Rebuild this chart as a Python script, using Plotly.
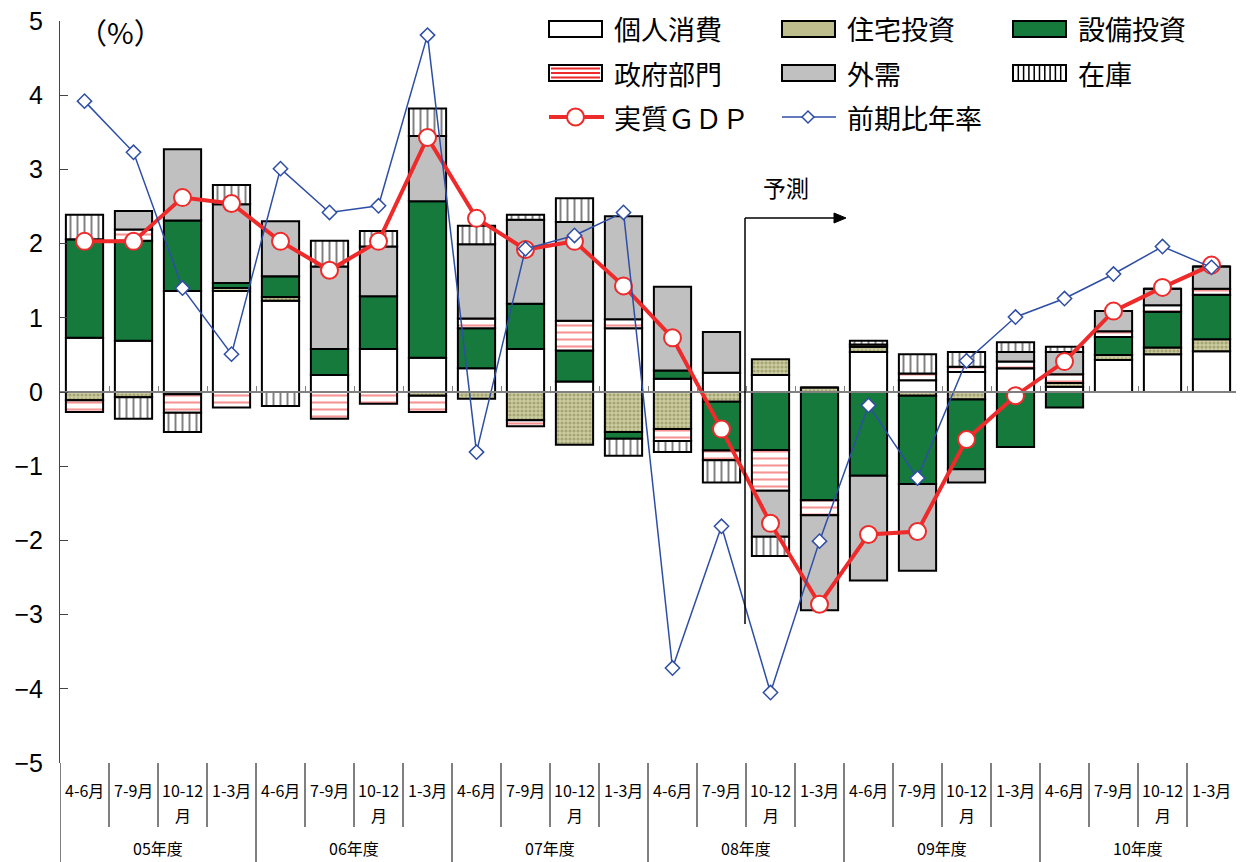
import plotly.graph_objects as go

# ---------------- data ----------------
quarters = ["4-6月", "7-9月", "10-12月", "1-3月"] * 6
years = ["05年度", "06年度", "07年度", "08年度", "09年度", "10年度"]

consumption = [0.73, 0.69, 1.36, 1.36, 1.23, 0.23, 0.58, 0.46, 0.32, 0.58, 0.14, 0.86,
               0.18, 0.26, 0.23, 0.00, 0.54, 0.16, 0.27, 0.32, 0.07, 0.43, 0.51, 0.55]
housing = [-0.11, -0.07, -0.03, 0.04, 0.05, 0.00, 0.00, -0.05, -0.09, -0.38, -0.71, -0.54,
           -0.50, -0.13, 0.21, 0.06, 0.07, -0.05, -0.10, 0.00, 0.05, 0.07, 0.09, 0.16]
equipment = [1.33, 1.35, 0.95, 0.07, 0.28, 0.35, 0.71, 2.11, 0.54, 0.61, 0.42, -0.09,
             0.11, -0.66, -0.78, -1.46, -1.13, -1.19, -0.94, -0.74, -0.21, 0.24, 0.48, 0.60]
government = [-0.16, 0.15, -0.25, -0.21, 0.00, -0.36, -0.16, -0.22, 0.13, -0.08, 0.40, 0.12,
              -0.16, -0.13, -0.55, -0.20, 0.03, 0.09, 0.07, 0.09, 0.12, 0.08, 0.09, 0.08]
external = [0.00, 0.25, 0.96, 1.06, 0.74, 1.11, 0.67, 0.88, 1.00, 1.13, 1.33, 1.39,
            1.13, 0.55, -0.62, -1.28, -1.41, -1.17, -0.18, 0.13, 0.30, 0.27, 0.22, 0.30]
inventory = [0.33, -0.29, -0.26, 0.26, -0.19, 0.35, 0.21, 0.37, 0.25, 0.07, 0.32, -0.23,
             -0.15, -0.30, -0.26, 0.00, 0.05, 0.26, 0.20, 0.13, 0.07, 0.00, 0.00, 0.00]
real_gdp = [2.03, 2.03, 2.62, 2.54, 2.03, 1.64, 2.03, 3.43, 2.34, 1.92, 2.03, 1.43,
            0.73, -0.50, -1.77, -2.86, -1.92, -1.88, -0.64, -0.05, 0.41, 1.09, 1.41, 1.71]
annualized = [3.92, 3.23, 1.40, 0.51, 3.01, 2.42, 2.51, 4.81, -0.81, 1.93, 2.11, 2.42,
              -3.72, -1.81, -4.05, -2.01, -0.18, -1.16, 0.42, 1.01, 1.26, 1.59, 1.96, 1.68]
y_ticks = [5, 4, 3, 2, 1, 0, -1, -2, -3, -4, -5]

# ---------------- geometry helpers ----------------
W, H = 1242, 862
ML, MR, MT, MB = 60, 6, 21, 99
PW, PH = W - ML - MR, H - MT - MB


def px(x):
    return (x - ML) / PW


def py(y):
    return (H - MB - y) / PH


xs = list(range(len(quarters)))
BW = 0.76
outline = dict(color="black", width=2)
JP = "Noto Sans CJK JP"

GREEN = "#157A3C"
GRAY = "#C0C0C0"
RED = "#EE2A2A"
BLUE = "#2E4EA6"
OLIVE_BG = "#CDCDA2"
OLIVE_FG = "#7C7C48"

fig = go.Figure()
fig.add_trace(go.Bar(x=xs, y=consumption, name="個人消費", width=BW,
                     marker=dict(color="white", line=outline)))
fig.add_trace(go.Bar(x=xs, y=housing, name="住宅投資", width=BW,
                     marker=dict(color=OLIVE_BG, line=outline,
                                 pattern=dict(shape=".", fgcolor=OLIVE_FG, bgcolor=OLIVE_BG,
                                              size=4, solidity=0.5))))
fig.add_trace(go.Bar(x=xs, y=equipment, name="設備投資", width=BW,
                     marker=dict(color=GREEN, line=outline)))
fig.add_trace(go.Bar(x=xs, y=government, name="政府部門", width=BW,
                     marker=dict(color="white", line=outline,
                                 pattern=dict(shape="-", fgcolor=RED, bgcolor="white",
                                              size=7, solidity=0.3))))
fig.add_trace(go.Bar(x=xs, y=external, name="外需", width=BW,
                     marker=dict(color=GRAY, line=outline)))
fig.add_trace(go.Bar(x=xs, y=inventory, name="在庫", width=BW,
                     marker=dict(color="white", line=outline,
                                 pattern=dict(shape="|", fgcolor="black", bgcolor="white",
                                              size=7, solidity=0.28))))
fig.add_trace(go.Scatter(x=xs, y=real_gdp, name="実質ＧＤＰ", mode="lines+markers",
                         line=dict(color=RED, width=4),
                         marker=dict(size=17, color="white", line=dict(color=RED, width=2))))
fig.add_trace(go.Scatter(x=xs, y=annualized, name="前期比年率", mode="lines+markers",
                         line=dict(color=BLUE, width=1.5),
                         marker=dict(symbol="diamond", size=11, color="white",
                                     line=dict(color=BLUE, width=1.5))))

shapes = []
annotations = []

# bottom category lines
for i in range(1, len(quarters)):
    ybot = py(862) if i % 4 == 0 else py(827)
    shapes.append(dict(type="line", xref="x", yref="paper", x0=i - 0.5, x1=i - 0.5,
                       y0=0, y1=ybot, line=dict(color="black", width=1)))
shapes.append(dict(type="line", xref="x", yref="paper", x0=-0.5, x1=-0.5,
                   y0=0, y1=py(862), line=dict(color="black", width=1)))

qfont = dict(family=JP, size=16, color="black")
for i, q in enumerate(quarters):
    if q == "10-12月":
        annotations.append(dict(x=i, y=py(790), xref="x", yref="paper", text="10-12",
                                yanchor="middle", showarrow=False, font=qfont))
        annotations.append(dict(x=i, y=py(815), xref="x", yref="paper", text="月",
                                yanchor="middle", showarrow=False, font=qfont))
    else:
        annotations.append(dict(x=i, y=py(790), xref="x", yref="paper", text=q,
                                yanchor="middle", showarrow=False, font=qfont))
for k, yl in enumerate(years):
    annotations.append(dict(x=4 * k + 1.5, y=py(848), xref="x", yref="paper", text=yl,
                            yanchor="middle", showarrow=False,
                            font=dict(family=JP, size=16, color="black")))

# unit label
annotations.append(dict(x=px(76), y=py(31), xref="paper", yref="paper", text="（%）",
                        xanchor="left", yanchor="middle", showarrow=False,
                        font=dict(family=JP, size=29, color="black")))

# forecast marker
annotations.append(dict(x=px(786), y=py(187), xref="paper", yref="paper", text="予測",
                        yanchor="middle", showarrow=False,
                        font=dict(family=JP, size=23, color="black")))
shapes.append(dict(type="line", xref="paper", yref="paper", x0=px(745), x1=px(745),
                   y0=py(218), y1=py(624), line=dict(color="black", width=1.5)))
shapes.append(dict(type="line", xref="paper", yref="paper", x0=px(745), x1=px(836),
                   y0=py(218), y1=py(218), line=dict(color="black", width=1.5)))
shapes.append(dict(type="path", xref="paper", yref="paper",
                   path=f"M {px(846)} {py(218)} L {px(834)} {py(213)} L {px(834)} {py(223)} Z",
                   fillcolor="black", line=dict(color="black", width=1)))

# legend (manual)
rows = [29, 73, 117]
cols = [(549, 602, 612), (782, 835, 845), (1013, 1066, 1076)]
leg_font = dict(family=JP, size=27, color="black")


def swatch(c, r, fill):
    x0, x1, _ = cols[c]
    yc = rows[r]
    shapes.append(dict(type="rect", xref="paper", yref="paper", x0=px(x0), x1=px(x1),
                       y0=py(yc + 8), y1=py(yc - 8), fillcolor=fill,
                       line=dict(color="black", width=2)))


swatch(0, 0, "white")
swatch(1, 0, "#BDBD8E")
swatch(2, 0, GREEN)
swatch(0, 1, "white")
for yy in (68.5, 73, 77.5):
    shapes.append(dict(type="line", xref="paper", yref="paper", x0=px(551), x1=px(600),
                       y0=py(yy), y1=py(yy), line=dict(color=RED, width=1.8)))
swatch(1, 1, GRAY)
swatch(2, 1, "white")
for k in range(1, 10):
    xx = 1013 + 5.3 * k
    shapes.append(dict(type="line", xref="paper", yref="paper", x0=px(xx), x1=px(xx),
                       y0=py(66), y1=py(80), line=dict(color="black", width=1.5)))
# line legends
shapes.append(dict(type="line", xref="paper", yref="paper", x0=px(549), x1=px(604),
                   y0=py(117), y1=py(117), line=dict(color=RED, width=4)))
shapes.append(dict(type="circle", xref="paper", yref="paper", x0=px(567), x1=px(584),
                   y0=py(125.5), y1=py(108.5), fillcolor="white", line=dict(color=RED, width=2)))
shapes.append(dict(type="line", xref="paper", yref="paper", x0=px(782), x1=px(836),
                   y0=py(117), y1=py(117), line=dict(color=BLUE, width=1.5)))
shapes.append(dict(type="path", xref="paper", yref="paper",
                   path=f"M {px(808)} {py(111)} L {px(814)} {py(117)} L {px(808)} {py(123)} L {px(802)} {py(117)} Z",
                   fillcolor="white", line=dict(color=BLUE, width=1.5)))

labels = [["個人消費", "住宅投資", "設備投資"],
          ["政府部門", "外需", "在庫"],
          ["実質ＧＤＰ", "前期比年率", None]]
for r, row in enumerate(labels):
    for c, t in enumerate(row):
        if t is None:
            continue
        annotations.append(dict(x=px(cols[c][2]), y=py(rows[r]), xref="paper", yref="paper",
                                text=t, xanchor="left", yanchor="middle", showarrow=False,
                                font=leg_font))

fig.update_layout(
    width=W, height=H,
    margin=dict(l=ML, r=MR, t=MT, b=MB),
    barmode="relative",
    showlegend=False,
    plot_bgcolor="white", paper_bgcolor="white",
    shapes=shapes, annotations=annotations,
    xaxis=dict(range=[-0.5, len(quarters) - 0.5], anchor="free", position=0.5,
               showline=True, linecolor="#808080", linewidth=2,
               ticks="inside", ticklen=5, tickcolor="#808080", tickwidth=1,
               tickvals=[i - 0.5 for i in range(len(quarters) + 1)],
               showticklabels=False, showgrid=False, zeroline=False),
    yaxis=dict(range=[-5, 5], tickvals=y_ticks, ticks="inside", ticklen=8,
               tickcolor="#444", showline=True, linecolor="#444", linewidth=1,
               showgrid=False, zeroline=False, ticklabelstandoff=11,
               tickfont=dict(family="Liberation Sans", size=25, color="black")),
)

fig.write_html("out.html")
